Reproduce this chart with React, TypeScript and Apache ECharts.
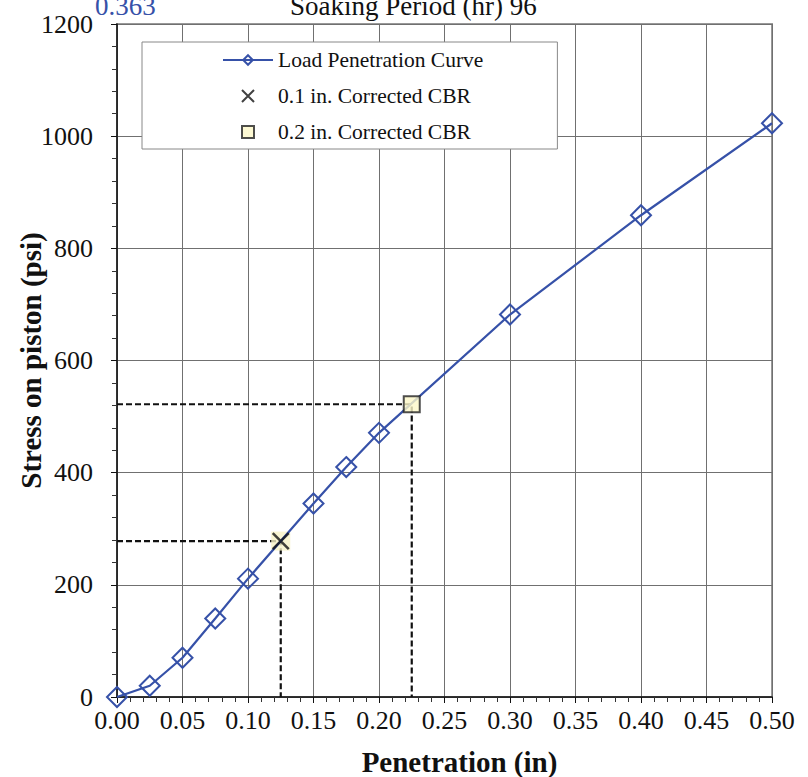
import React, { useEffect, useRef } from "react";
import * as echarts from "echarts";

const penetration = [0, 0.025, 0.05, 0.075, 0.1, 0.15, 0.175, 0.2, 0.3, 0.4, 0.5];
const stress = [0, 20, 70, 140, 211, 345, 410, 471, 682, 859, 1023];
const cbr01 = [0.125, 278];
const cbr02 = [0.225, 522];
const xTicks = { min: 0, max: 0.5, interval: 0.05 };
const yTicks = { min: 0, max: 1200, interval: 200 };
const legendNames = ["Load Penetration Curve", "0.1 in. Corrected CBR", "0.2 in. Corrected CBR"];
const topLeftValue = "0.363";
const topTitle = "Soaking Period (hr) 96";

const BLUE = "#3651A8";
const SERIF = "'Liberation Serif', 'Times New Roman', serif";

export default function App() {
  const ref = useRef<HTMLDivElement>(null);
  useEffect(() => {
    if (!ref.current) return;
    const chart = echarts.init(ref.current, undefined, { renderer: "svg" });
    const dashStyle = { color: "#111", width: 2.2, type: [6, 3] as any };
    chart.setOption({
      animation: false,
      backgroundColor: "#fff",
      textStyle: { fontFamily: SERIF },
      grid: {
        left: 117,
        right: 36,
        top: 24,
        bottom: 80,
        outerBoundsMode: "none",
        containLabel: false,
        show: true,
        borderColor: "#999",
        borderWidth: 2,
      },
      graphic: [
        {
          type: "text",
          left: 95,
          top: -8,
          style: { text: topLeftValue, fill: BLUE, font: `27px ${SERIF}` },
        },
        {
          type: "text",
          left: 290,
          top: -8,
          style: { text: topTitle, fill: "#111", font: `27px ${SERIF}` },
        },
      ],
      legend: {
        data: [
          { name: legendNames[0] },
          { name: legendNames[1], icon: "path://M0,0L10,10M10,0L0,10" },
          { name: legendNames[2], icon: "path://M0,0L10,0L10,10L0,10Z" },
        ],
        orient: "vertical",
        left: 142,
        top: 42,
        itemWidth: 50,
        itemHeight: 12,
        itemGap: 14,
        symbolKeepAspect: true,
        padding: [7, 74, 6, 80],
        backgroundColor: "#fff",
        borderColor: "#888",
        borderWidth: 1,
        borderRadius: 0,
        textStyle: { fontFamily: SERIF, fontSize: 21.5, color: "#111" },
      },
      xAxis: {
        type: "value",
        min: xTicks.min,
        max: xTicks.max,
        interval: xTicks.interval,
        nameMoveOverlap: false,
        axisLine: { show: true, lineStyle: { color: "#111", width: 1.5 } },
        axisTick: { show: true, length: 6, lineStyle: { color: "#111" } },
        minorTick: { show: true, splitNumber: 5, length: 5, lineStyle: { color: "#333" } },
        splitLine: { show: true, lineStyle: { color: "#707070", width: 1 } },
        axisLabel: {
          fontFamily: SERIF,
          fontSize: 26,
          color: "#111",
          margin: 10,
          formatter: (v: number) => v.toFixed(2),
        },
        name: "Penetration (in)",
        nameLocation: "middle",
        nameGap: 50,
        nameTextStyle: { fontFamily: SERIF, fontSize: 29, fontWeight: "bold", color: "#111", padding: [0, 0, 0, 30] },
      },
      yAxis: {
        type: "value",
        min: yTicks.min,
        max: yTicks.max,
        interval: yTicks.interval,
        nameMoveOverlap: false,
        axisLine: { show: true, lineStyle: { color: "#111", width: 1.5 } },
        axisTick: { show: true, length: 6, lineStyle: { color: "#111" } },
        minorTick: { show: true, splitNumber: 5, length: 5, lineStyle: { color: "#333" } },
        splitLine: { show: true, lineStyle: { color: "#707070", width: 1 } },
        axisLabel: {
          fontFamily: SERIF,
          fontSize: 26,
          color: "#111",
          margin: 24,
          formatter: (v: number) => String(v),
        },
        name: "Stress on piston (psi)",
        nameLocation: "middle",
        nameGap: 72,
        nameTextStyle: { fontFamily: SERIF, fontSize: 29, fontWeight: "bold", color: "#111" },
      },
      series: [
        {
          type: "line",
          data: [[0, cbr01[1]], [cbr01[0], cbr01[1]], [cbr01[0], 0]],
          symbol: "none",
          lineStyle: dashStyle,
          silent: true,
          z: 1,
        },
        {
          type: "line",
          data: [[0, cbr02[1]], [cbr02[0], cbr02[1]], [cbr02[0], 0]],
          symbol: "none",
          lineStyle: dashStyle,
          silent: true,
          z: 1,
        },
        {
          name: legendNames[0],
          type: "line",
          data: penetration.map((p, i) => [p, stress[i]]),
          symbol: "diamond",
          symbolSize: 20,
          color: BLUE,
          itemStyle: { color: "rgba(255,255,255,0)", borderColor: BLUE, borderWidth: 2 },
          lineStyle: { color: BLUE, width: 2.2 },
          z: 3,
        },
        {
          type: "scatter",
          data: [cbr01],
          symbol: "rect",
          symbolSize: 19,
          itemStyle: { color: "#F7F2C6" },
          z: 2,
        },
        {
          name: legendNames[1],
          type: "scatter",
          data: [cbr01],
          symbol: "path://M0,0L10,10M10,0L0,10",
          symbolSize: 16,
          itemStyle: { color: "rgba(0,0,0,0)", borderColor: "#111", borderWidth: 2.5 },
          z: 4,
        },
        {
          name: legendNames[2],
          type: "scatter",
          data: [cbr02],
          symbol: "rect",
          symbolSize: 16,
          itemStyle: { color: "#FDF8C8", borderColor: "#222", borderWidth: 2 },
          z: 4,
        },
      ],
    });
    return () => chart.dispose();
  }, []);
  return <div ref={ref} style={{ width: 808, height: 777, position: "absolute", left: 0, top: 0 }} />;
}
